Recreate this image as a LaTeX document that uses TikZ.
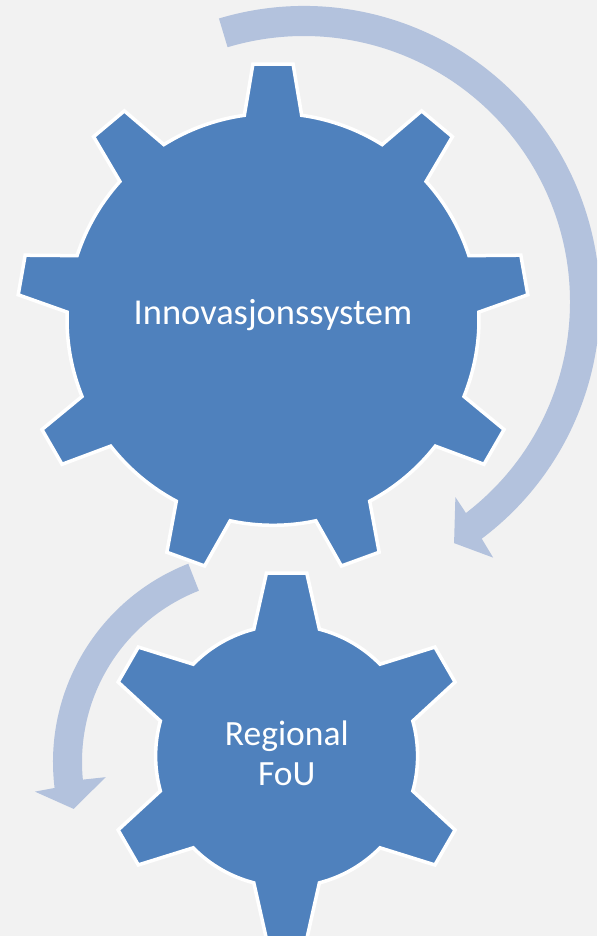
\documentclass[tikz,border=0pt]{standalone}
\usepackage{fontspec}
\setmainfont{Carlito}
\definecolor{gearblue}{HTML}{4F81BD}
\definecolor{arrowblue}{HTML}{B3C2DD}
\definecolor{bggray}{HTML}{F2F2F2}
\begin{document}
\begin{tikzpicture}[x=1pt,y=-1pt,
  gearshape/.style={fill=gearblue, draw=white, line width=3.5pt, line join=miter},
  arrowshape/.style={fill=arrowblue, draw=none},
  bigtext/.style={text=white, font=\fontsize{36.5}{40}\selectfont, inner sep=0pt},
  smalltext/.style={text=white, font=\fontsize{35.5}{40}\selectfont, inner sep=0pt}]
\fill[bggray] (0,0) rectangle (597,936);
\useasboundingbox (0,0) rectangle (597,936);
\clip (0,0) rectangle (597,936);

% big circular arrow (clockwise)
\begin{scope}[shift={(304,302)}]
  \fill[arrowshape] (-106.7:296) arc[start angle=-106.7, end angle=53.1, radius=296]
    -- (53.5:318) -- (58.1:284) -- (52.2:247) -- (52.5:266)
    arc[start angle=52.5, end angle=-106.7, radius=266] -- cycle;
\end{scope}

% small circular arrow (counter-clockwise)
\begin{scope}[shift={(266,762)}]
  \fill[arrowshape] (248.6:213) arc[start angle=248.6, end angle=173, radius=213]
    -- (172.7:233) -- (166.3:198) -- (174.6:161) -- (174.5:184)
    arc[start angle=174.5, end angle=248.6, radius=184] -- cycle;
\end{scope}

% big gear (9 teeth)
\begin{scope}[shift={(273,319.3)}]
  \draw[gearshape] (-98:206)
    \foreach \a in {-90,-50,...,230} {
      -- ({\a-8}:206) -- ({\a-4.5}:256) -- ({\a+4.5}:256) -- ({\a+8}:206)
      arc[start angle={\a+8}, end angle={\a+32}, radius=206]
    } -- cycle;
\end{scope}

% small gear (6 teeth)
\begin{scope}[shift={(286.6,756)}]
  \draw[gearshape] (-104.5:131)
    \foreach \a in {-90,-30,...,210} {
      -- ({\a-14.5}:131) -- ({\a-6.3}:184) -- ({\a+6.3}:184) -- ({\a+14.5}:131)
      arc[start angle={\a+14.5}, end angle={\a+45.5}, radius=131]
    } -- cycle;
\end{scope}

\node[bigtext, anchor=base] (innov) at (273,324.4) {Innovasjonssystem};
\node[smalltext, anchor=base] (regional) at (286.8,745) {Regional};
\node[smalltext, anchor=base] (fou) at (286.8,785) {FoU};
\end{tikzpicture}
\end{document}
